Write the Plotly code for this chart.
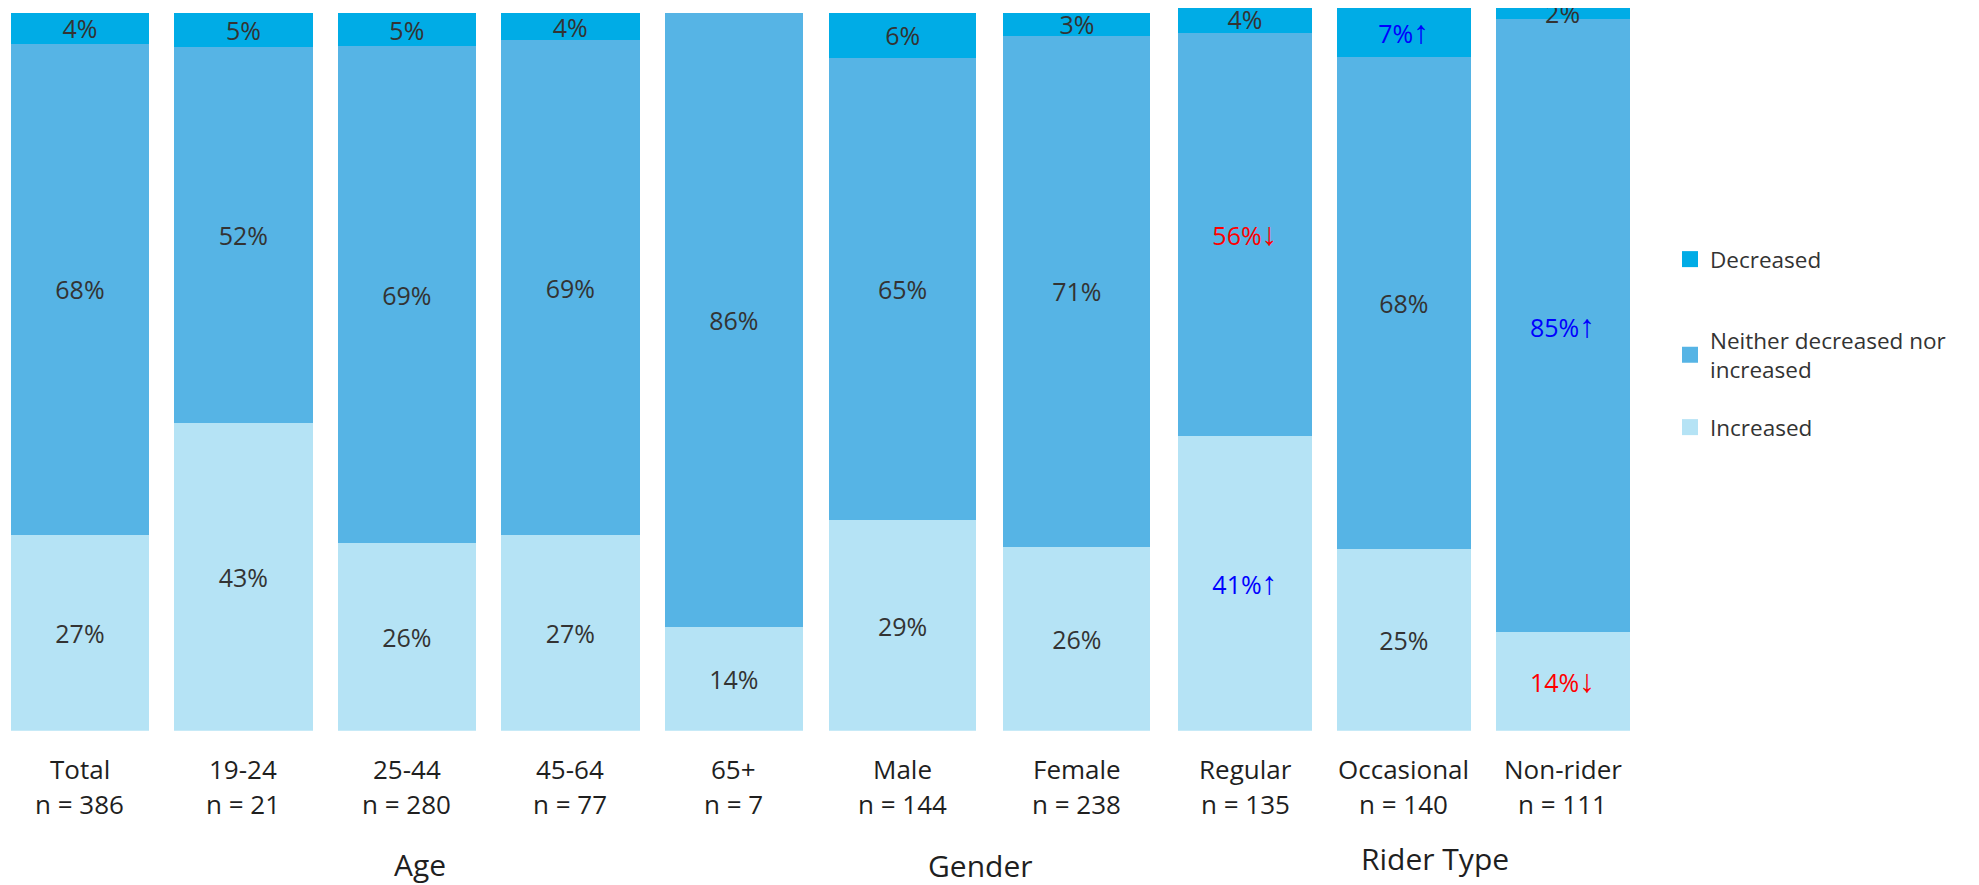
import plotly.graph_objects as go

# ---------------- data ----------------
categories_age = ["Total", "19-24", "25-44", "45-64", "65+"]
categories_gender = ["Male", "Female"]
categories_rider = ["Regular", "Occasional", "Non-rider"]
n_age = [386, 21, 280, 77, 7]
n_gender = [144, 238]
n_rider = [135, 140, 111]
group_titles = ["Age", "Gender", "Rider Type"]
series_names = ["Decreased", "Neither decreased nor<br>increased", "Increased"]

decreased_age = [4.3, 4.7, 4.6, 3.8, 0.0]
neither_age = [68.4, 52.4, 69.3, 69.0, 85.6]
increased_age = [27.3, 42.9, 26.1, 27.2, 14.4]
decreased_gender = [6.2, 3.2]
neither_gender = [64.5, 71.2]
increased_gender = [29.3, 25.6]
decreased_rider = [3.7, 7.1, 1.8]
neither_rider = [55.6, 67.8, 84.6]
increased_rider = [40.7, 25.1, 13.6]

lab_dec_age = ["4%", "5%", "5%", "4%", ""]
lab_nei_age = ["68%", "52%", "69%", "69%", "86%"]
lab_inc_age = ["27%", "43%", "26%", "27%", "14%"]
lab_dec_gender = ["6%", "3%"]
lab_nei_gender = ["65%", "71%"]
lab_inc_gender = ["29%", "26%"]
lab_dec_rider = ["4%", "7%", "2%"]
lab_nei_rider = ["56%", "68%", "85%"]
lab_inc_rider = ["41%", "25%", "14%"]
# significance: 0 = none, 1 = significantly higher (blue ↑), -1 = lower (red ↓)
sig_dec_rider = [0, 1, 0]
sig_nei_rider = [-1, 0, 1]
sig_inc_rider = [1, 0, -1]

# ---------------- style ----------------
PAGE_OFF = 8                      # default body margin of the html page
W, H = 1979 - PAGE_OFF, 885 - PAGE_OFF
FONT = "Open Sans"
C_DEC, C_NEI, C_INC = "#00ACE6", "#56B4E5", "#B5E3F5"
TXT = "#333333"
LBL = "#1f1f1f"
SIGC = {0: TXT, 1: "#0000FF", -1: "#FF0000"}
ARROW = {0: "", 1: "↑", -1: "↓"}
ARROW_STYLE = "font-family:Liberation Sans;font-size:32px"


def px_x(p):
    return (p - PAGE_OFF) / W


def px_y(p):
    return min(1.0, (H - (p - PAGE_OFF)) / H)


def decorate(labels, sig):
    out = []
    for lab, s in zip(labels, sig):
        if s and lab:
            out.append(f"{lab}<span style='{ARROW_STYLE}'>{ARROW[s]}</span>")
        else:
            out.append(lab)
    return out


BOTTOM = 730.7
TOP_12 = 13.0      # 100 % line of the Age / Gender panels
TOP_3 = 6.0        # 100 % line of the Rider Type panel (slightly higher)
AREA_TOP = PAGE_OFF
y_range_max = 100 * (BOTTOM - AREA_TOP) / (BOTTOM - TOP_12)
y3_range_max = 100 * (BOTTOM - AREA_TOP) / (BOTTOM - TOP_3)

fig = go.Figure()

panels = [
    ("x", "y", categories_age,
     (increased_age, lab_inc_age, [0] * 5),
     (neither_age, lab_nei_age, [0] * 5),
     (decreased_age, lab_dec_age, [0] * 5), 0.847),
    ("x2", "y", categories_gender,
     (increased_gender, lab_inc_gender, [0] * 2),
     (neither_gender, lab_nei_gender, [0] * 2),
     (decreased_gender, lab_dec_gender, [0] * 2), 0.843),
    ("x3", "y3", categories_rider,
     (increased_rider, lab_inc_rider, sig_inc_rider),
     (neither_rider, lab_nei_rider, sig_nei_rider),
     (decreased_rider, lab_dec_rider, sig_dec_rider), 0.845),
]

for xa, ya, cats, inc, nei, dec, bw in panels:
    for (vals, labs, sig), name, col in [
        (inc, "Increased", C_INC),
        (nei, series_names[1], C_NEI),
        (dec, "Decreased", C_DEC),
    ]:
        fig.add_trace(go.Bar(
            x=cats, y=vals, name=name, xaxis=xa, yaxis=ya,
            width=bw,
            marker=dict(color=col, line=dict(width=0)),
            text=decorate(labs, sig), textposition="inside", insidetextanchor="middle",
            textangle=0,
            textfont=dict(family=FONT, size=25, color=[SIGC[s] for s in sig]),
            showlegend=False,
            hoverinfo="skip",
        ))

# legend entries (square keys), one legend box per entry so each can be placed
for name, col, leg in [("Decreased", C_DEC, "legend"),
                       (series_names[1], C_NEI, "legend2"),
                       ("Increased", C_INC, "legend3")]:
    fig.add_trace(go.Scatter(
        x=[None], y=[None], mode="markers", name=name, legend=leg,
        marker=dict(symbol="square", size=16, color=col, line=dict(width=0)),
        xaxis="x", yaxis="y", hoverinfo="skip", showlegend=True,
    ))

axis_common = dict(showgrid=False, zeroline=False, showticklabels=False,
                   showline=False, ticks="", fixedrange=True)

leg_font = dict(family=FONT, size=22.5, color=TXT)
fig.update_layout(
    width=W, height=H, autosize=False,
    margin=dict(l=0, r=0, t=0, b=0),
    paper_bgcolor="white", plot_bgcolor="white",
    barmode="stack",
    uniformtext=dict(mode="show", minsize=25),
    font=dict(family=FONT, color=TXT),
    xaxis=dict(domain=[px_x(8), px_x(815.5)], range=[-0.44, 4.5], anchor="y", **axis_common),
    xaxis2=dict(domain=[px_x(815.5), px_x(1164)], range=[-0.5, 1.5], anchor="y", **axis_common),
    xaxis3=dict(domain=[px_x(1165.6), px_x(1642)], range=[-0.5, 2.5], anchor="y3", **axis_common),
    yaxis=dict(domain=[px_y(BOTTOM), px_y(AREA_TOP)], range=[0, y_range_max], anchor="x",
               **axis_common),
    yaxis3=dict(domain=[px_y(BOTTOM), px_y(AREA_TOP)], range=[0, y3_range_max],
                anchor="x3", **axis_common),
    legend=dict(x=px_x(1670), y=px_y(238), xanchor="left", yanchor="top",
                font=leg_font, bgcolor="rgba(0,0,0,0)"),
    legend2=dict(x=px_x(1670), y=px_y(319), xanchor="left", yanchor="top",
                 font=leg_font, bgcolor="rgba(0,0,0,0)"),
    legend3=dict(x=px_x(1670), y=px_y(406), xanchor="left", yanchor="top",
                 font=leg_font, bgcolor="rgba(0,0,0,0)"),
)

# category labels (two lines) under each bar
annotations = []
for xa, cats, ns in [("x", categories_age, n_age), ("x2", categories_gender, n_gender),
                     ("x3", categories_rider, n_rider)]:
    for c, n in zip(cats, ns):
        annotations.append(dict(x=c, xref=xa, y=px_y(769), yref="paper", text=c,
                                showarrow=False, xanchor="center", yanchor="middle",
                                font=dict(family=FONT, size=26, color=LBL)))
        annotations.append(dict(x=c, xref=xa, y=px_y(804), yref="paper", text=f"n = {n}",
                                showarrow=False, xanchor="center", yanchor="middle",
                                font=dict(family=FONT, size=26, color=LBL)))

for title, gx, gy in zip(group_titles, [420, 980, 1435], [864, 865, 858]):
    annotations.append(dict(x=px_x(gx), xref="paper", y=px_y(gy), yref="paper", text=title,
                            showarrow=False, xanchor="center", yanchor="middle",
                            font=dict(family=FONT, size=30, color=LBL)))

fig.update_layout(annotations=annotations)

fig.write_html("out.html")
